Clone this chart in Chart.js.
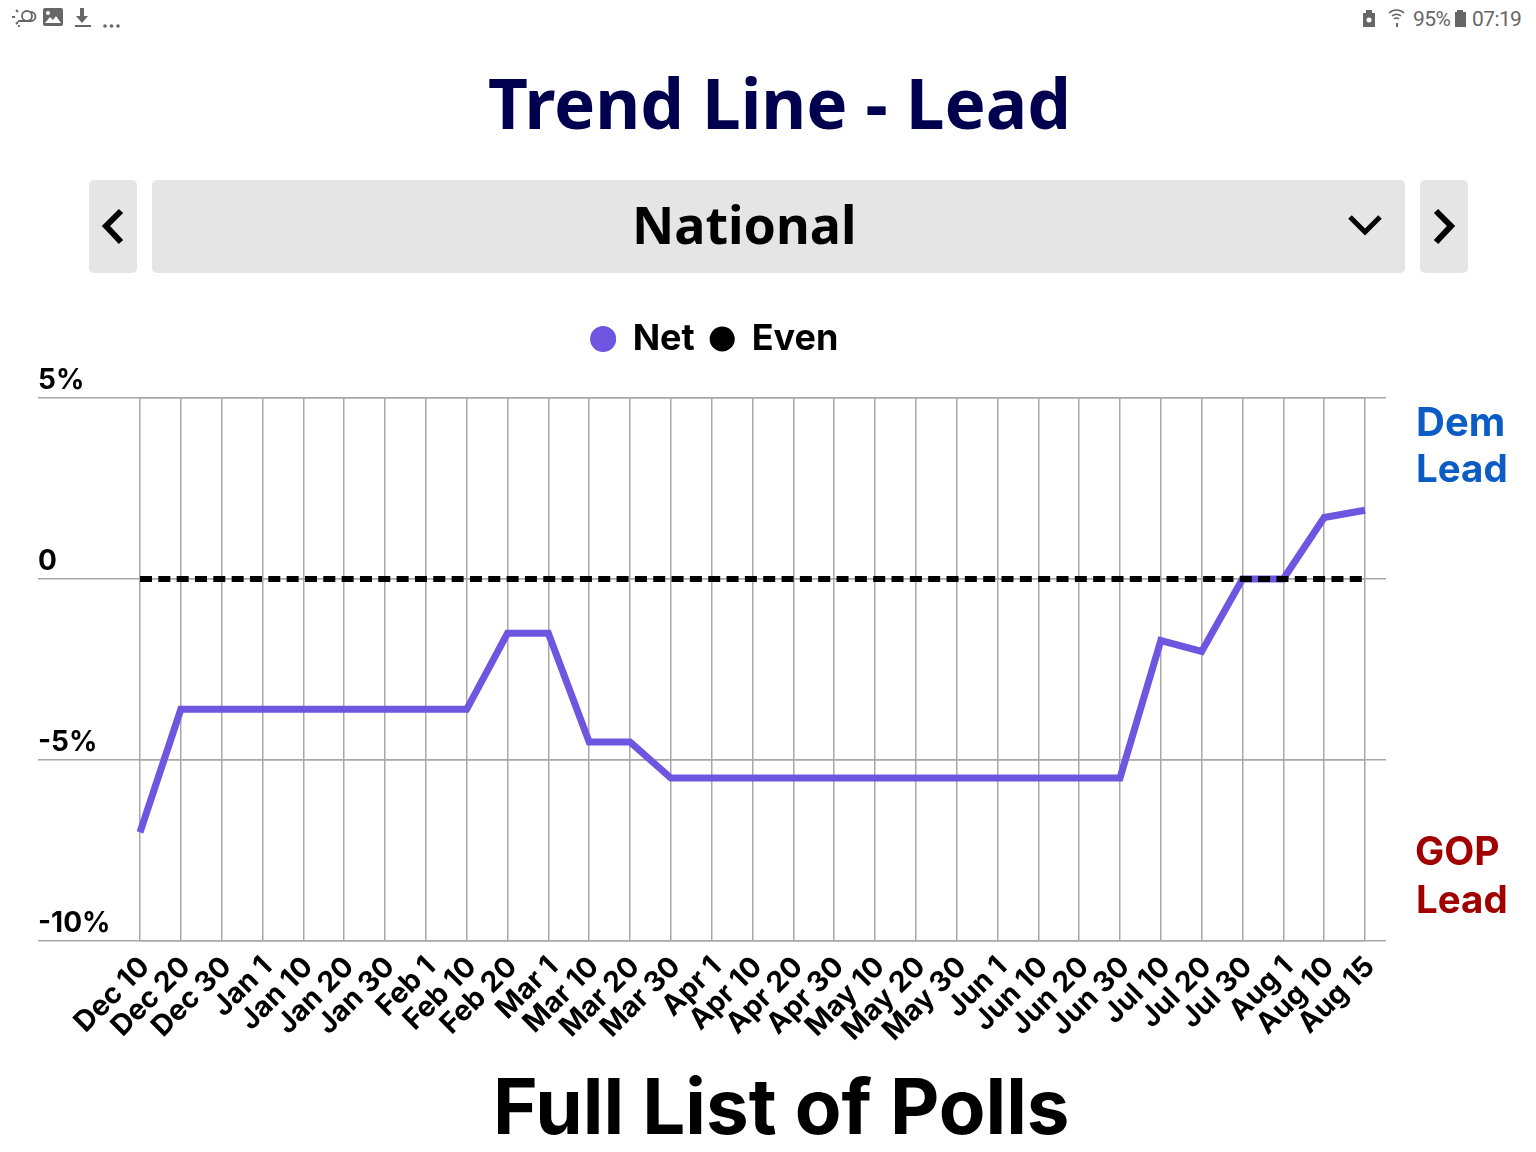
<!DOCTYPE html>
<html><head><meta charset="utf-8">
<script src="https://cdn.jsdelivr.net/npm/chart.js@4"></script>
<style>
html,body{margin:0;padding:0;background:#fff;width:1536px;height:1152px;overflow:hidden}
.t{position:absolute;white-space:nowrap;line-height:1}
#wrap{position:absolute;left:0;top:300px;width:1430px;height:761px}
.btn{position:absolute;top:180px;height:93px;background:#e5e5e5;border-radius:5px}
svg{position:absolute}
</style></head><body>
<svg style="left:8px;top:5px" width="112" height="26" viewBox="0 0 112 26">
<g fill="none" stroke="#666" stroke-width="1.8"><circle cx="19" cy="11" r="5"/><path d="M10 16h13a4 4 0 0 0 0-9"/><path d="M4 12h3M8 5l2 2M8 19l2-2M11 22v-2"/></g>
<rect x="35" y="3" width="20" height="18" rx="2" fill="#666"/><path d="M37 18l5-6 3 3 3-4 5 7z" fill="#fff"/><circle cx="40" cy="8" r="2" fill="#fff"/>
<path d="M72 3h4v8h4l-6 7-6-7h4z" fill="#666"/><rect x="67" y="20" width="16" height="2" fill="#666"/>
<g fill="#666"><circle cx="97" cy="21" r="1.8"/><circle cx="103.500" cy="21" r="1.8"/><circle cx="110" cy="21" r="1.8"/></g></svg>
<svg style="left:1360px;top:6px" width="50" height="22" viewBox="0 0 50 22">
<path d="M3 7h3V4h6v3h3v14H3z" fill="#666"/><circle cx="9" cy="14" r="2.500" fill="#fff"/>
<g fill="none" stroke="#666" stroke-width="1.600"><path d="M29 7a11 11 0 0 1 15 0M32 10a7 7 0 0 1 9 0M34 13a4 4 0 0 1 5 0"/></g>
<path d="M36 17h2v4h-2z" fill="#666"/></svg>
<div class="t" style="left:1413px;top:7px;font:21px Roboto;letter-spacing:-0.6px;color:#666">95%</div>
<svg style="left:1454px;top:8px" width="14" height="20"><path d="M3 2h6v2h3v15H1V4h2z" fill="#666"/></svg>
<div class="t" style="left:1472px;top:7px;font:21px Roboto;letter-spacing:-0.6px;color:#666">07:19</div>

<div class="t" style="left:488px;top:55px;font:bold 69.2px 'Noto Sans';color:#00004f">Trend Line - Lead</div>
<div class="btn" style="left:89px;width:48px"></div>
<div class="btn" style="left:152px;width:1253px"></div>
<div class="btn" style="left:1420px;width:48px"></div>
<svg style="left:89px;top:180px" width="48" height="93"><path d="M32 31L17 46l15 16" fill="none" stroke="#000" stroke-width="6"/></svg>
<svg style="left:1420px;top:180px" width="48" height="93"><path d="M16 31l15 15-15 16" fill="none" stroke="#000" stroke-width="6"/></svg>
<svg style="left:1345px;top:205px" width="40" height="40"><path d="M5 12l15 15 15-15" fill="none" stroke="#000" stroke-width="5"/></svg>
<div class="t" style="left:632px;top:188px;font:bold 52px 'Noto Sans';color:#000">National</div>
<div id="wrap"><canvas id="c" width="1430" height="761"></canvas></div>
<div class="t" style="left:1416px;top:397px;font:bold 40px Inter;color:#0b5cc4">Dem</div>
<div class="t" style="left:1416px;top:445px;font:bold 38.500px Inter;color:#0b5cc4">Lead</div>
<div class="t" style="left:1415px;top:827px;font:bold 39px Inter;color:#a00000">GOP</div>
<div class="t" style="left:1416px;top:876px;font:bold 38.500px Inter;color:#a00000">Lead</div>
<div class="t" style="left:493px;top:1060px;font:bold 76.300px Inter;color:#000">Full List of Polls</div>
<script>
const categories = ["Dec 10","Dec 20","Dec 30","Jan 1","Jan 10","Jan 20","Jan 30","Feb 1","Feb 10","Feb 20","Mar 1","Mar 10","Mar 20","Mar 30","Apr 1","Apr 10","Apr 20","Apr 30","May 10","May 20","May 30","Jun 1","Jun 10","Jun 20","Jun 30","Jul 10","Jul 20","Jul 30","Aug 1","Aug 10","Aug 15"];
const netValues = [-7,-3.6,-3.6,-3.6,-3.6,-3.6,-3.6,-3.6,-3.6,-1.5,-1.5,-4.5,-4.5,-5.5,-5.5,-5.5,-5.5,-5.5,-5.5,-5.5,-5.5,-5.5,-5.5,-5.5,-5.5,-1.7,-2,0,0,1.7,1.9];
const evenValues = [0,0,0,0,0,0,0,0,0,0,0,0,0,0,0,0,0,0,0,0,0,0,0,0,0,0,0,0,0,0,0];
const yTickLabels = {"5":"5%","0":"0","-5":"-5%","-10":"-10%"};
const GRID = "#a8a8a8";
const legendGap = {id:"legendGap",beforeLayout(chart){
  const l = chart.legend;
  if(l && !l._gapped){
    const f = l.fit; l.fit = function(){ f.call(this); this.height += 31; };
    const d = l.draw; l.draw = function(){ const c = this.ctx; c.save(); c.translate(3,0); d.call(this); c.restore(); };
    l._gapped = true;
  }
}};
new Chart(document.getElementById("c"),{
  type:"line",
  plugins:[legendGap],
  data:{labels:categories,datasets:[
    {label:"Net",data:netValues,borderColor:"#6f56e0",backgroundColor:"#6f56e0",borderWidth:7,pointRadius:0,tension:0,order:2,borderJoinStyle:"miter",pointStyle:"circle"},
    {label:"Even",data:evenValues,borderColor:"#000",backgroundColor:"#000",borderWidth:6,borderDash:[12,6.330],pointRadius:0,tension:0,order:1,pointStyle:"circle"}
  ]},
  options:{
    responsive:false,animation:false,
    layout:{padding:{left:38,right:44,top:5,bottom:0}},
    plugins:{
      tooltip:{enabled:false},
      legend:{display:true,position:"top",align:"center",labels:{
        usePointStyle:true,boxHeight:13.500,boxWidth:23,padding:16,color:"#000",
        font:{family:"Inter",weight:"bold",size:36},
        sort:(a,b)=>a.datasetIndex-b.datasetIndex}}
    },
    scales:{
      x:{type:"category",offset:false,
        grid:{color:GRID,lineWidth:1.500,drawTicks:false},
        border:{display:false},
        ticks:{autoSkip:false,minRotation:45,maxRotation:45,padding:9,labelOffset:5,color:"#000",font:{family:"Inter",weight:"bold",size:28.500}},
        afterFit:s=>{s.height=120}},
      y:{type:"linear",position:"left",min:-10,max:5,
        grid:{color:GRID,lineWidth:1.500,tickLength:102},
        border:{display:false},
        ticks:{stepSize:5,crossAlign:"far",labelOffset:-17,padding:0,color:"#000",font:{family:"Inter",weight:"bold",size:28},callback:v=>yTickLabels[String(v)]},
        afterFit:s=>{s.width=102}},
      y2:{type:"linear",position:"right",min:-10,max:5,
        grid:{color:GRID,lineWidth:1.500,tickLength:21},
        border:{display:false},
        ticks:{stepSize:5,display:false},
        afterFit:s=>{s.width=21}}
    }
  }
});
</script></body></html>
